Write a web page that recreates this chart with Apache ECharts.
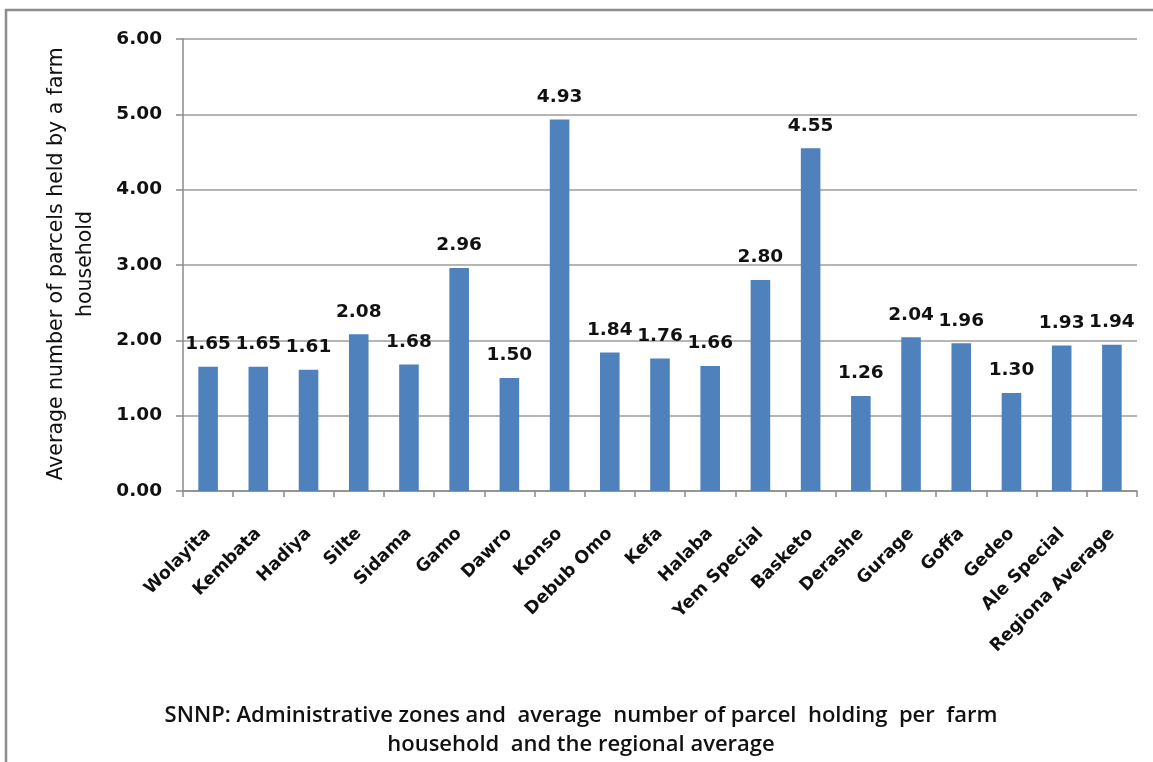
<!DOCTYPE html>
<html>
<head>
<meta charset="utf-8">
<script src="https://cdn.jsdelivr.net/npm/echarts@6/dist/echarts.min.js"></script>
<style>
  html, body { margin: 0; padding: 0; background: #ffffff; }
  #chart { width: 1153px; height: 762px; }
</style>
</head>
<body>
<div id="chart"></div>
<script>
// Administrative zones of SNNP and their average parcel counts
const zones = [
  'Wolayita', 'Kembata', 'Hadiya', 'Silte', 'Sidama', 'Gamo', 'Dawro', 'Konso',
  'Debub Omo', 'Kefa', 'Halaba', 'Yem Special', 'Basketo', 'Derashe', 'Gurage',
  'Goffa', 'Gedeo', 'Ale Special', 'Regiona Average'
];
const parcelsPerHousehold = [
  1.65, 1.65, 1.61, 2.08, 1.68, 2.96, 1.50, 4.93,
  1.84, 1.76, 1.66, 2.80, 4.55, 1.26, 2.04,
  1.96, 1.30, 1.93, 1.94
];
const yTicks = [0, 1, 2, 3, 4, 5, 6];

const yAxisTitle = 'Average number of parcels held by a farm\nhousehold';
const chartCaption = 'SNNP: Administrative zones and  average  number of parcel  holding  per  farm\nhousehold  and the regional average';

const chart = echarts.init(document.getElementById('chart'), null, { renderer: 'canvas' });

const gridLeft = 183, gridRight = 16, gridTop = 39, gridBottom = 271;

chart.setOption({
  backgroundColor: '#ffffff',
  animation: false,
  grid: { left: gridLeft, right: gridRight, top: gridTop, bottom: gridBottom, containLabel: false },
  xAxis: {
    type: 'category',
    data: zones,
    axisLine: { show: true, lineStyle: { color: '#8a8a8a', width: 1.5 } },
    axisTick: { show: true, length: 6, lineStyle: { color: '#8a8a8a', width: 1.5 } },
    axisLabel: {
      interval: 0,
      rotate: 45,
      margin: 40,
      color: '#111111',
      fontFamily: 'DejaVu Sans',
      fontWeight: 'bold',
      fontSize: 17.5
    }
  },
  yAxis: {
    type: 'value',
    min: yTicks[0],
    max: yTicks[yTicks.length - 1],
    interval: 1,
    axisLine: { show: true, lineStyle: { color: '#8a8a8a', width: 1.5 } },
    axisTick: { show: true, length: 7, inside: false, lineStyle: { color: '#8a8a8a', width: 1.5 } },
    splitLine: { show: true, lineStyle: { color: '#9c9c9c', width: 1.5 } },
    axisLabel: {
      margin: 21,
      color: '#111111',
      fontFamily: 'DejaVu Sans',
      fontWeight: 'bold',
      fontSize: 18.5,
      formatter: v => v.toFixed(2)
    }
  },
  series: [{
    type: 'bar',
    data: parcelsPerHousehold,
    barWidth: '39%',
    itemStyle: { color: '#4f81bd' },
    label: {
      show: true,
      position: 'top',
      distance: 13,
      color: '#111111',
      fontFamily: 'DejaVu Sans',
      fontWeight: 'bold',
      fontSize: 18.5,
      formatter: p => p.value.toFixed(2)
    }
  }],
  graphic: [
    {
      // outer frame of the chart area
      type: 'rect',
      silent: true,
      shape: { x: 6, y: 10, width: 1300, height: 900 },
      style: { fill: 'none', stroke: '#8c8c8c', lineWidth: 2.5 }
    },
    {
      type: 'text',
      silent: true,
      x: 71,
      y: 264,
      rotation: Math.PI / 2,
      style: {
        text: yAxisTitle,
        fontFamily: 'DejaVu Sans',
        fontSize: 20.5,
        lineHeight: 29,
        fill: '#111111',
        align: 'center',
        verticalAlign: 'middle'
      }
    },
    {
      type: 'text',
      silent: true,
      x: 581,
      y: 730,
      style: {
        text: chartCaption,
        fontFamily: 'Open Sans',
        fontWeight: 600,
        fontSize: 22,
        lineHeight: 29,
        fill: '#111111',
        align: 'center',
        verticalAlign: 'middle'
      }
    }
  ]
});
</script>
</body>
</html>
